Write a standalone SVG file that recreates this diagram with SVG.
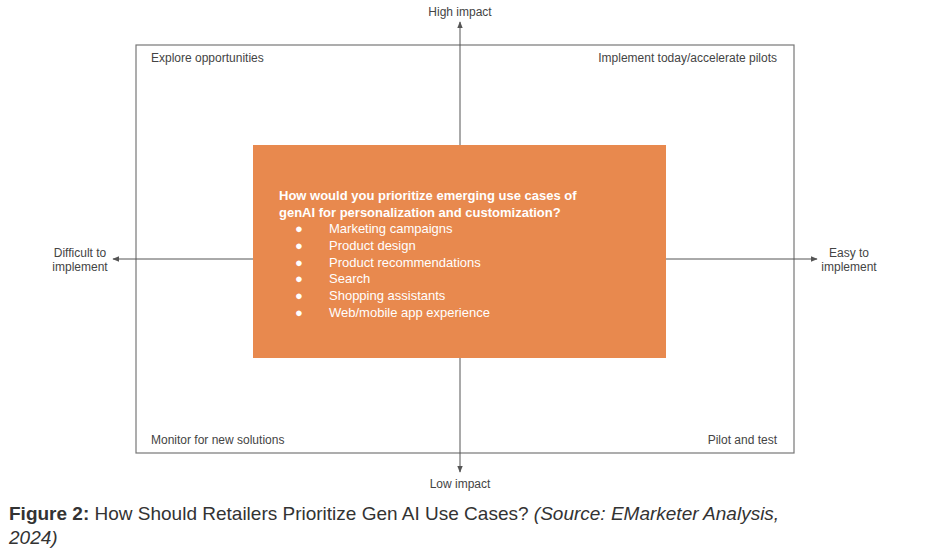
<svg xmlns="http://www.w3.org/2000/svg" width="952" height="557" viewBox="0 0 952 557">
<style>
text{font-family:"Liberation Sans",Arial,sans-serif;fill:#444}
.s{font-size:12px}
.w{fill:#fff;font-size:13px}
.b{font-weight:bold}
.ax{stroke:#555;stroke-width:1;fill:none}
.cap{font-size:19px;fill:#333}
</style>
<defs><marker id="ah" viewBox="0 0 10 10" refX="9" refY="5" markerWidth="7" markerHeight="7" orient="auto"><path d="M0,1 L10,5 L0,9z" fill="#555"/></marker></defs>
<rect width="952" height="557" fill="#fff"/>
<g id="frame"><rect x="136" y="45" width="658" height="408" fill="none" stroke="#777" stroke-width="1.2"/></g>
<g id="connectors">
<line class="ax" x1="460" y1="145" x2="460" y2="22" marker-end="url(#ah)"/>
<line class="ax" x1="460" y1="358" x2="460" y2="472" marker-end="url(#ah)"/>
<line class="ax" x1="253" y1="259" x2="113" y2="259" marker-end="url(#ah)"/>
<line class="ax" x1="666" y1="259" x2="817" y2="259" marker-end="url(#ah)"/>
</g>
<g id="center">
<rect x="253" y="145" width="413" height="213" fill="#E8894E"/>
<text class="w b" x="279" y="200">How would you prioritize emerging use cases of</text>
<text class="w b" x="279" y="217">genAI for personalization and customization?</text>
<g class="w">
<text class="w" x="295" y="233">●</text><text class="w" x="329" y="233">Marketing campaigns</text>
<text class="w" x="295" y="250">●</text><text class="w" x="329" y="250">Product design</text>
<text class="w" x="295" y="267">●</text><text class="w" x="329" y="267">Product recommendations</text>
<text class="w" x="295" y="283">●</text><text class="w" x="329" y="283">Search</text>
<text class="w" x="295" y="300">●</text><text class="w" x="329" y="300">Shopping assistants</text>
<text class="w" x="295" y="317">●</text><text class="w" x="329" y="317">Web/mobile app experience</text>
</g>
</g>
<g id="labels">
<text class="s" x="460" y="16" text-anchor="middle">High impact</text>
<text class="s" x="460" y="488" text-anchor="middle">Low impact</text>
<text class="s" x="80" y="257" text-anchor="middle">Difficult to</text>
<text class="s" x="80" y="271" text-anchor="middle">implement</text>
<text class="s" x="849" y="257" text-anchor="middle">Easy to</text>
<text class="s" x="849" y="271" text-anchor="middle">implement</text>
<text class="s" x="151" y="62">Explore opportunities</text>
<text class="s" x="777" y="62" text-anchor="end">Implement today/accelerate pilots</text>
<text class="s" x="151" y="444">Monitor for new solutions</text>
<text class="s" x="777" y="444" text-anchor="end">Pilot and test</text>
</g>
<g id="caption">
<text class="cap" x="9" y="520"><tspan font-weight="bold">Figure 2:</tspan> How Should Retailers Prioritize Gen AI Use Cases? <tspan font-style="italic">(Source: EMarketer Analysis,</tspan></text>
<text class="cap" x="9" y="544" font-style="italic">2024)</text>
</g>
</svg>
